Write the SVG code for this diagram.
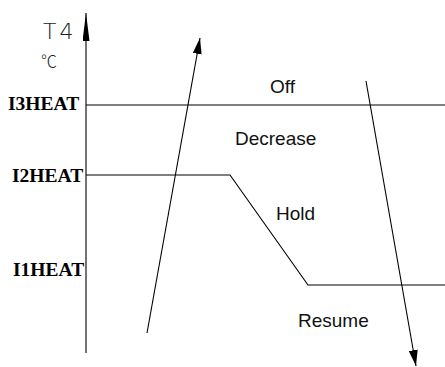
<svg xmlns="http://www.w3.org/2000/svg" width="445" height="367" viewBox="0 0 445 367">
  <style>
    .ln { stroke: #000; stroke-width: 1.1; fill: none; }
    .lbl { font-family: "Liberation Sans", Arial, sans-serif; font-size: 19px; fill: #111; }
    .lvl { font-family: "Liberation Serif", "Times New Roman", serif; font-weight: bold; font-size: 19.5px; fill: #000; }
  </style>
  <defs>
    <marker id="ah" viewBox="0 0 16 9" refX="16" refY="4.5" markerWidth="16" markerHeight="9" markerUnits="userSpaceOnUse" orient="auto">
      <path d="M0,0 L16,4.5 L0,9 z" fill="#000"/>
    </marker>
    <marker id="axh" viewBox="0 0 28 7" refX="28" refY="3.5" markerWidth="28" markerHeight="7" markerUnits="userSpaceOnUse" orient="auto">
      <path d="M0,0 L28,3.5 L0,7 z" fill="#000"/>
    </marker>
  </defs>
  <rect width="445" height="367" fill="#fff"/>

  <g id="axis">
    <line class="ln" x1="86" y1="353" x2="86" y2="13" marker-end="url(#axh)"/>
    <text x="43" y="39" style="font-family: 'DejaVu Sans', sans-serif; font-size: 22px; font-weight: 200; fill: #222; letter-spacing: 3px;">T4</text>
    <text x="41" y="67" style="font-family: 'Noto Sans CJK SC', sans-serif; font-size: 16px; font-weight: 300; fill: #222;">℃</text>
  </g>

  <g id="levels">
    <line class="ln" x1="86" y1="105" x2="445" y2="105"/>
    <polyline class="ln" points="86,175 230,175 308,285 445,285"/>
    <text class="lvl" x="8" y="110">I3HEAT</text>
    <text class="lvl" x="12" y="182">I2HEAT</text>
    <text class="lvl" x="13" y="276">I1HEAT</text>
  </g>

  <g id="off"><text class="lbl" x="270" y="93">Off</text></g>
  <g id="decrease"><text class="lbl" x="235" y="145">Decrease</text></g>
  <g id="hold"><text class="lbl" x="276" y="220">Hold</text></g>
  <g id="resume"><text class="lbl" x="298" y="327">Resume</text></g>

  <g id="connectors">
    <line class="ln" x1="147" y1="333" x2="200" y2="38" marker-end="url(#ah)"/>
    <line class="ln" x1="366" y1="81" x2="416" y2="366" marker-end="url(#ah)"/>
  </g>
</svg>
